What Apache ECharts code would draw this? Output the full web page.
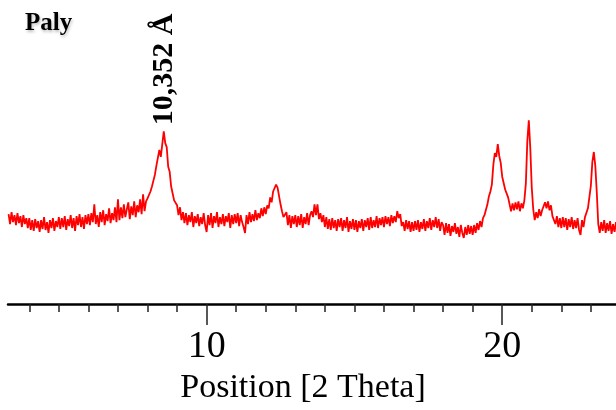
<!DOCTYPE html>
<html>
<head>
<meta charset="utf-8">
<title>Paly</title>
<script src="https://cdn.jsdelivr.net/npm/echarts@6/dist/echarts.min.js"></script>
<style>
  html, body { margin: 0; padding: 0; background: #ffffff; }
  #chart { width: 616px; height: 410px; }
</style>
</head>
<body>
<div id="chart"></div>
<script>
// XRD scan: regular 2θ grid (start / step) and measured intensities
const scanStart = 3.30;
const scanStep = 0.05;

const intensity = [
  // 3.30 – 3.95
  910, 810, 930, 830, 900, 800, 920, 820, 890, 780, 900, 810, 870, 770,
  // 4.00 – 4.95
  870, 750, 850, 740, 860, 770, 840, 730, 850, 760, 880, 750, 830, 720, 850, 770, 870, 740, 840, 780,
  // 5.00 – 5.95
  880, 760, 870, 780, 890, 750, 860, 790, 900, 770, 870, 740, 890, 800, 910, 780, 880, 760, 900, 810,
  // 6.00 – 6.95
  910, 800, 920, 830, 1010, 810, 900, 780, 930, 830, 950, 800, 910, 840, 970, 820, 920, 850, 980, 830,
  // 7.00 – 7.95
  1060, 850, 980, 870, 1010, 880, 960, 1030, 860, 990, 900, 1040, 880, 1000, 930, 1060, 910, 1110, 940, 1040,
  // 8.00 – 8.95
  1070, 1090, 1140, 1190, 1250, 1310, 1400, 1480, 1560, 1490, 1620, 1750, 1630, 1590, 1390, 1340, 1190, 1170, 1050, 1060,
  // 9.00 – 9.95
  1000, 900, 980, 850, 930, 820, 920, 800, 900, 830, 930, 780, 890, 820, 910, 790, 880, 810, 920, 800,
  // 10.00 – 10.95
  730, 900, 800, 920, 770, 890, 820, 930, 780, 880, 810, 910, 790, 890, 830, 920, 770, 900, 810, 910,
  // 11.00 – 11.95
  820, 920, 790, 900, 830, 780, 720, 900, 810, 930, 830, 910, 840, 950, 850, 920, 870, 970, 890, 980,
  // 12.00 – 12.95
  910, 1000, 970, 1080, 1030, 1140, 1120, 1210, 1180, 1170, 1010, 940, 880, 860, 930, 800, 900, 770, 890, 810,
  // 13.00 – 13.95
  900, 780, 890, 800, 910, 770, 880, 810, 920, 800, 900, 940, 880, 1010, 900, 1010, 860, 920, 830, 900,
  // 14.00 – 14.95
  780, 880, 760, 860, 750, 870, 770, 850, 740, 860, 780, 870, 740, 850, 770, 880, 730, 840, 760, 860,
  // 15.00 – 15.95
  750, 850, 730, 840, 770, 860, 740, 850, 780, 870, 750, 880, 770, 850, 780, 890, 770, 870, 800, 880,
  // 16.00 – 16.95
  780, 890, 810, 880, 790, 900, 820, 890, 830, 940, 870, 910, 790, 830, 740, 850, 760, 840, 730, 830,
  // 17.00 – 17.95
  740, 840, 750, 850, 730, 830, 760, 860, 740, 840, 770, 870, 750, 850, 780, 880, 770, 860, 740, 830,
  // 18.00 – 18.95
  800, 700, 820, 720, 810, 690, 790, 730, 820, 710, 780, 680, 800, 720, 670, 780, 700, 800, 710, 790,
  // 19.00 – 19.95
  700, 800, 720, 820, 750, 840, 780, 870, 900, 880, 1010, 1090, 1140, 1210, 1410, 1530, 1490, 1620, 1500, 1430,
  // 20.00 – 20.95
  1290, 1270, 1160, 1150, 1080, 1060, 940, 1020, 950, 1030, 960, 1040, 940, 1020, 970, 1050, 1220, 1650, 1860, 1580,
  // 21.00 – 21.95
  1180, 960, 850, 930, 870, 960, 890, 950, 950, 1030, 970, 1040, 950, 1000, 890, 880, 810, 890, 780, 870,
  // 22.00 – 22.95
  770, 880, 780, 870, 750, 860, 780, 880, 760, 850, 770, 870, 750, 700, 850, 780, 880, 900, 970, 990,
  // 23.00 – 23.85
  1200, 1440, 1540, 1400, 1130, 810, 720, 830, 740, 850, 720, 820, 740, 840, 710, 810, 730, 830
];

// Axis tick positions
const majorTicks = [10, 20];
const minorTicks = [4, 5, 6, 7, 8, 9, 10, 11, 12, 13, 14, 15, 16, 17, 18, 19, 20, 21, 22, 23];

// Annotated reflection (d-spacing), sample name and axis title
const peakAnnotations = [{ twoTheta: 8.55, text: '10,352 Å' }];
const sampleName = 'Paly';
const axisTitle = 'Position [2 Theta]';

const serif = '"Liberation Serif", "Times New Roman", "DejaVu Serif", serif';

const points = intensity.map((v, i) => [+(scanStart + i * scanStep).toFixed(2), v]);
const markData = peakAnnotations.map(p => {
  const idx = Math.round((p.twoTheta - scanStart) / scanStep);
  return { coord: points[idx], label: { formatter: p.text } };
});

const xMin = 3.28, xMax = 23.85;

const chart = echarts.init(document.getElementById('chart'), null, { renderer: 'canvas' });
chart.setOption({
  animation: false,
  backgroundColor: '#ffffff',
  title: {
    text: sampleName,
    left: 25,
    top: 11,
    padding: 0,
    textStyle: {
      fontFamily: serif, fontWeight: 'bold', fontSize: 25, color: '#000',
      textShadowColor: 'rgba(0,0,0,0.25)', textShadowBlur: 3, textShadowOffsetX: 1, textShadowOffsetY: 2
    }
  },
  grid: { left: 8, right: 0, top: 0, bottom: 102, containLabel: false },
  xAxis: [
    {
      type: 'value', min: xMin, max: xMax, position: 'bottom',
      axisLine: { show: true, lineStyle: { color: '#000', width: 2.5 } },
      axisTick: { show: true, customValues: minorTicks, length: 8, lineStyle: { color: '#222', width: 1.5 } },
      axisLabel: { show: false },
      splitLine: { show: false },
      name: axisTitle,
      nameLocation: 'middle',
      nameGap: 67,
      nameTextStyle: { fontFamily: serif, fontSize: 34, color: '#000', lineHeight: 34, padding: [0, 18, 0, 0] }
    },
    {
      type: 'value', min: xMin, max: xMax, position: 'bottom',
      axisLine: { show: false },
      axisTick: { show: true, customValues: majorTicks, length: 21, lineStyle: { color: '#222', width: 1.5 } },
      axisLabel: {
        show: true, customValues: majorTicks, margin: 24,
        fontFamily: serif, fontSize: 38, color: '#000', lineHeight: 38
      },
      splitLine: { show: false }
    }
  ],
  yAxis: { type: 'value', min: 0, max: 3080, show: false },
  series: [{
    type: 'line',
    xAxisIndex: 0,
    data: points,
    showSymbol: false,
    symbol: 'none',
    lineStyle: { color: '#ff0000', width: 1.8 },
    markPoint: {
      symbol: 'circle', symbolSize: 0,
      label: {
        show: true, position: 'top', distance: 8, rotate: 90,
        align: 'left', verticalAlign: 'middle', offset: [-2, 0],
        fontFamily: serif, fontWeight: 'bold', fontSize: 30, color: '#000'
      },
      data: markData
    }
  }]
});
</script>
</body>
</html>
